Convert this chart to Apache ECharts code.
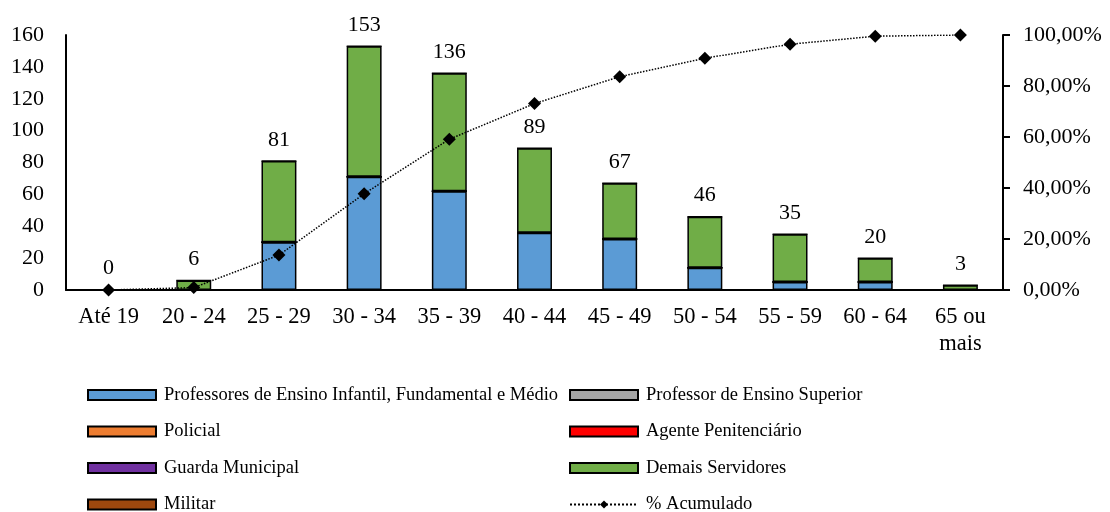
<!DOCTYPE html>
<html><head><meta charset="utf-8">
<script src="https://cdn.jsdelivr.net/npm/echarts@6/dist/echarts.min.js"></script>
<style>html,body{margin:0;padding:0;background:#fff}#c{width:1110px;height:512px}</style>
</head><body><div id="c"></div>
<script>
var categories = ['Até 19','20 - 24','25 - 29','30 - 34','35 - 39','40 - 44','45 - 49','50 - 54','55 - 59','60 - 64','65 ou\nmais'];
var professores = [0,0,30,71,62,36,32,14,5,5,0];
var profSuperior = [0,0,0,0,0,0,0,0,0,0,0];
var policial = [0,0,0,0,0,0,0,0,0,0,0];
var agente = [0,0,0,0,0,0,0,0,0,0,0];
var guarda = [0,0,0,0,0,0,0,0,0,0,0];
var demais = [0,6,51,82,74,53,35,32,30,15,3];
var militar = [0,0,0,0,0,0,0,0,0,0,0];
var totals = [0,6,81,153,136,89,67,46,35,20,3];
var acumulado = [0,0.94,13.68,37.74,59.12,73.11,83.65,90.88,96.38,99.53,100];
var leftTicks = {min:0,max:160,interval:20};
var rightTicks = {min:0,max:100,interval:20};

var FONT = 'Liberation Serif';
function bar(name, data, color, extra){
  var s = {name:name,type:'bar',stack:'t',data:data,barWidth:'41%',
    itemStyle:{color:color,borderColor:'#000',borderWidth:1.5}};
  if(extra){for(var k in extra)s[k]=extra[k];}
  return s;
}
var chart = echarts.init(document.getElementById('c'));
var legendText = {fontFamily:FONT,fontSize:18.5,color:'#000',lineHeight:20,padding:[0,0,0,3]};
function legendBox(left, names){
  return {orient:'vertical',left:left,top:385,width:500,height:160,padding:0,
    itemWidth:68,itemHeight:10,itemGap:16.5,textStyle:legendText,
    data:names.map(function(n){return n==='% Acumulado'?{name:n}:{name:n,icon:'rect'};})};
}
chart.setOption({
  animation:false,
  textStyle:{fontFamily:FONT,color:'#000'},
  grid:{left:66,right:107,top:35,bottom:222,containLabel:false},
  legend:[
    legendBox(87,['Professores de Ensino Infantil, Fundamental e Médio','Policial','Guarda Municipal','Militar']),
    legendBox(569,['Professor de Ensino Superior','Agente Penitenciário','Demais Servidores','% Acumulado'])
  ],
  xAxis:{type:'category',data:categories,
    axisLine:{lineStyle:{color:'#000',width:2}},axisTick:{show:false},
    axisLabel:{fontFamily:FONT,fontSize:22.5,color:'#000',margin:14,lineHeight:27,interval:0}},
  yAxis:[
    {type:'value',min:leftTicks.min,max:leftTicks.max,interval:leftTicks.interval,
     axisLine:{show:true,lineStyle:{color:'#000',width:2}},axisTick:{show:false},splitLine:{show:false},
     axisLabel:{fontFamily:FONT,fontSize:22,color:'#000',margin:22}},
    {type:'value',min:rightTicks.min,max:rightTicks.max,interval:rightTicks.interval,position:'right',
     axisLine:{show:true,lineStyle:{color:'#000',width:2}},
     axisTick:{show:true,inside:false,length:7,lineStyle:{color:'#000',width:2}},splitLine:{show:false},
     axisLabel:{fontFamily:FONT,fontSize:22,color:'#000',margin:20,
       formatter:function(v){return v.toFixed(2).replace('.',',')+'%';}}}
  ],
  series:[
    bar('Professores de Ensino Infantil, Fundamental e Médio',professores,'#5B9BD5'),
    bar('Professor de Ensino Superior',profSuperior,'#A5A5A5'),
    bar('Policial',policial,'#ED7D31'),
    bar('Agente Penitenciário',agente,'#FF0000'),
    bar('Guarda Municipal',guarda,'#7030A0'),
    bar('Demais Servidores',demais,'#70AD47',{label:{show:true,position:'top',distance:10,
      fontFamily:FONT,fontSize:22,color:'#000',formatter:function(p){return String(totals[p.dataIndex]);}}}),
    bar('Militar',militar,'#9E480E'),
    {name:'% Acumulado',type:'line',yAxisIndex:1,data:acumulado,z:10,
     symbol:'diamond',symbolSize:13,itemStyle:{color:'#000'},
     lineStyle:{color:'#000',width:1.5,type:'dotted'}}
  ]
});
</script></body></html>
